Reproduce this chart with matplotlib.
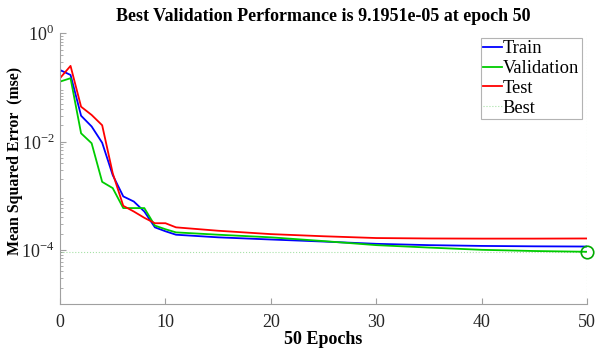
import numpy as np
import matplotlib
matplotlib.use("Agg")
import matplotlib.pyplot as plt

epochs = list(range(0, 51))
# values read at selected epochs; the remainder follows the flat tails
train_key = {0: 0.21, 1: 0.17, 2: 0.030, 3: 0.019, 4: 0.0095, 5: 0.0024, 6: 0.00097, 7: 0.00078,
             8: 0.00051, 9: 0.00026, 10: 0.00022, 11: 0.00019, 15: 0.000170, 20: 0.000155,
             25: 0.000142, 30: 0.000129, 35: 0.000122, 40: 0.000118, 45: 0.000116, 50: 0.000115}
valid_key = {0: 0.128, 1: 0.148, 2: 0.0142, 3: 0.0093, 4: 0.0018, 5: 0.00138, 6: 0.00059, 7: 0.00059,
             8: 0.00059, 9: 0.00028, 10: 0.00024, 11: 0.00021, 15: 0.000190, 20: 0.000170,
             25: 0.000145, 30: 0.000122, 35: 0.000110, 40: 0.000100, 45: 0.000095, 50: 9.1951e-05}
test_key = {0: 0.148, 1: 0.25, 2: 0.044, 3: 0.031, 4: 0.020, 5: 0.0026, 6: 0.00065, 7: 0.00051,
            8: 0.00039, 9: 0.00031, 10: 0.00031, 11: 0.00026, 15: 0.000225, 20: 0.000195,
            25: 0.000178, 30: 0.000165, 35: 0.000162, 40: 0.000161, 45: 0.000161, 50: 0.000162}

train_x = list(train_key.keys()); train_y = list(train_key.values())
valid_x = list(valid_key.keys()); valid_y = list(valid_key.values())
test_x = list(test_key.keys()); test_y = list(test_key.values())
best_epoch = 50
best_perf = 9.1951e-05

x_ticks = [0, 10, 20, 30, 40, 50]
title = "Best Validation Performance is 9.1951e-05 at epoch 50"

serif = ["Liberation Serif", "DejaVu Serif"]
plt.rcParams['font.family'] = serif
plt.rcParams['mathtext.fontset'] = 'custom'
plt.rcParams['mathtext.rm'] = 'Liberation Serif'

fig = plt.figure(figsize=(6.06, 3.58), dpi=100)
ax = fig.add_axes([0.099, 0.151, 0.870, 0.756])

ax.semilogy(train_x, train_y, color='#0000ff', lw=1.3, label='Train')
ax.semilogy(valid_x, valid_y, color='#00cc00', lw=1.3, label='Validation')
ax.semilogy(test_x, test_y, color='#ff0000', lw=1.3, label='Test')
ax.axhline(best_perf, color='#00aa00', lw=0.8, ls=':', alpha=0.35, label='Best')
ax.axvline(best_epoch, color='#00aa00', lw=0.8, ls=':', alpha=0.35)
ax.plot([best_epoch], [best_perf], 'o', mfc='none', mec='#00aa00', ms=9, mew=1.2, clip_on=False)

ax.set_xlim(0, 50)
ax.set_ylim(1e-5, 1)
ax.set_xticks(x_ticks)
ax.set_yticks([1e0, 1e-2, 1e-4])
ax.set_yticklabels([r'$10^{0}$', r'$10^{-2}$', r'$10^{-4}$'])
ax.tick_params(axis='both', direction='in', labelsize=13, colors='#262626', length=4)
ax.tick_params(axis='x', pad=7)
ax.tick_params(axis='y', pad=4)
ax.tick_params(axis='both', which='both', color='#a0a0a0')
ax.tick_params(axis='y', which='minor', direction='in', length=2.5)
ax.yaxis.set_minor_locator(matplotlib.ticker.LogLocator(base=10, subs=np.arange(2, 10), numticks=20))
ax.yaxis.set_minor_formatter(matplotlib.ticker.NullFormatter())
for s in ['top', 'right']:
    ax.spines[s].set_visible(False)
for s in ['left', 'bottom']:
    ax.spines[s].set_color('#a0a0a0')

ax.set_title(title, fontsize=13, fontweight='bold', pad=9)
ax.set_xlabel('50 Epochs', fontsize=13, fontweight='bold', labelpad=0)
ax.set_ylabel('Mean Squared Error  (mse)', fontsize=11.4, fontweight='bold')
ax.yaxis.set_label_coords(-0.07, 0.53)

leg = ax.legend(loc='upper right', bbox_to_anchor=(0.9896, 0.984), fontsize=13.3, frameon=True,
                fancybox=False, edgecolor='#a0a0a0', handlelength=1.0, handletextpad=0.05,
                borderpad=0.15, labelspacing=0.15, borderaxespad=0)
leg.get_frame().set_linewidth(0.8)

fig.savefig('out.png', dpi=100)
